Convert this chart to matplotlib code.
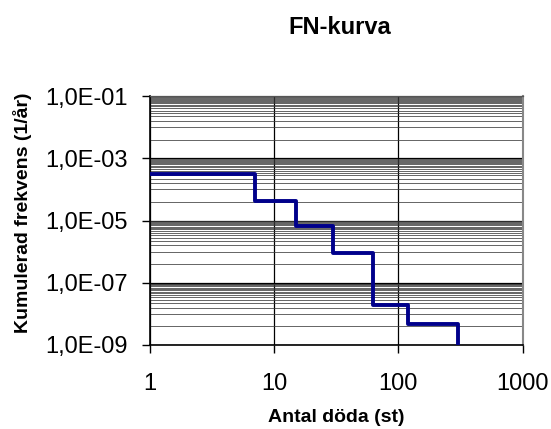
import numpy as np
import matplotlib
matplotlib.use("Agg")
import matplotlib.pyplot as plt
from matplotlib.ticker import FixedLocator, NullFormatter

plt.rcParams['font.family'] = ['Liberation Sans', 'DejaVu Sans']

# Data (FN curve, step function)
antal_doda = [1, 7, 15, 30, 62, 120, 300, 300]
frekvens = [3.2e-4, 4.1e-5, 6.6e-6, 9.3e-7, 2.0e-8, 4.6e-9, 4.6e-9, 1.0e-9]

x_ticks = [1, 10, 100, 1000]
y_ticks = [1e-9, 1e-7, 1e-5, 1e-3, 1e-1]
y_tick_labels = ["1,0E-09", "1,0E-07", "1,0E-05", "1,0E-03", "1,0E-01"]

title = "FN-kurva"
xlabel = "Antal döda (st)"
ylabel = "Kumulerad frekvens (1/år)"

fig = plt.figure(figsize=(5.51, 4.29), dpi=100)
ax = fig.add_axes([150/551, 1-345/429, (522.5-150)/551, (345-96)/429])

ax.set_xscale('log')
ax.set_yscale('log')
ax.set_xlim(1, 1000)
ax.set_ylim(1e-9, 1e-1)

# minor gridlines (Excel style, within each 2-decade span)
minor = []
for base in y_ticks[:-1]:
    for k in range(4, 100, 6):
        minor.append(base * k)
ax.yaxis.set_minor_locator(FixedLocator(minor))
ax.yaxis.set_minor_formatter(NullFormatter())
ax.xaxis.set_minor_locator(FixedLocator([]))

ax.set_xticks(x_ticks)
ax.set_xticklabels([str(v) for v in x_ticks])
ax.set_yticks(y_ticks)
ax.set_yticklabels(y_tick_labels)

ax.grid(True, which='major', axis='both', color='black', linewidth=0.9)
ax.grid(True, which='minor', axis='y', color='#3a3a3a', linewidth=0.55)
ax.set_axisbelow(True)

ax.tick_params(axis='both', which='major', direction='out', length=6, width=1,
               labelsize=17, colors='black')
ax.tick_params(axis='x', which='major', pad=14)
ax.tick_params(axis='y', which='major', pad=10)
ax.tick_params(which='minor', length=0)

for s in ['left', 'bottom']:
    ax.spines[s].set_color('black')
    ax.spines[s].set_linewidth(1.2)
ax.spines['top'].set_color('#555555')
ax.spines['top'].set_linewidth(0.9)
ax.spines['right'].set_color('#888888')
ax.spines['right'].set_linewidth(1.5)

ax.plot(antal_doda, frekvens, drawstyle='steps-post', color='#00008b',
        linewidth=2.8, zorder=5)

fig.text(340/551, 1-28/429, title, ha='center', va='center',
         fontsize=17, fontweight='bold')
fig.text(336/551, 1-418/429, xlabel, ha='center', va='center',
         fontsize=14, fontweight='bold')
fig.text(23/551, 1-213/429, ylabel, ha='center', va='center',
         fontsize=14, fontweight='bold', rotation=90)

fig.savefig('out.png', dpi=100)
